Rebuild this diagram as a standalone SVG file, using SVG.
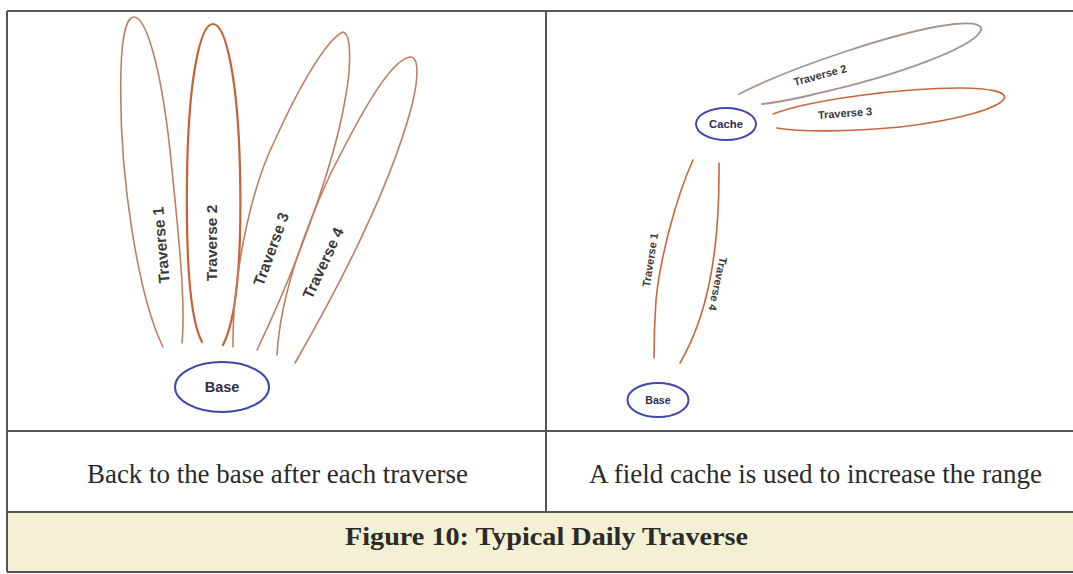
<svg xmlns="http://www.w3.org/2000/svg" width="1073" height="574" viewBox="0 0 1073 574">
<style>
.frame{stroke:#555;stroke-width:2;fill:none}
.loop{fill:none;stroke:#bf7f62;stroke-width:1.6;stroke-linecap:round}
.loop2{fill:none;stroke:#c9602f;stroke-width:2.2;stroke-linecap:round}
.loopg{fill:none;stroke:#a8958a;stroke-width:1.8;stroke-linecap:round}
.loopr{fill:none;stroke:#c8683a;stroke-width:1.6;stroke-linecap:round}
.node{fill:#fff;stroke:#3f47ad;stroke-width:2}
.nlabel{font-family:"Liberation Sans",Arial,sans-serif;font-weight:bold;fill:#2e2e48;text-anchor:middle;dominant-baseline:central}
.tl{font-family:"Liberation Sans",Arial,sans-serif;font-weight:bold;fill:#3a3a3a;text-anchor:middle;dominant-baseline:central}
.cap{font-family:"Liberation Serif",serif;fill:#2a2a2a;font-size:28px}
.fig{font-family:"Liberation Serif",serif;fill:#2a2a2a;font-size:25px;font-weight:bold}
</style>
<rect x="0" y="0" width="1073" height="574" fill="#fff"/>
<rect x="7" y="512" width="1066" height="60" fill="#f4f0d3"/>
<g id="frame">
<path class="frame" d="M7,11 H1073 M7,11 V572 M546,11 V512 M7,431 H1073 M7,512 H1073 M7,572 H1073"/>
</g>
<g id="connectors">
<path class="loop" d="M163,347 C140,300 118,180 121,70 C122,30 128,17 134,17 C145,17 160,60 170,150 C178,230 186,300 182,343"/>
<path class="loop2" d="M202,342 C190,320 186,260 187,180 C188,80 200,24 213,24 C226,24 238,80 240,170 C242,260 236,320 223,345"/>
<path class="loop" d="M233,347 C232,280 250,190 275,140 C295,95 325,40 343,32 C352,34 351,70 345,100 C335,160 300,260 257,350"/>
<path class="loop" d="M277,355 C280,300 300,240 330,175 C360,115 390,60 410,57 C420,57 418,80 412,105 C395,170 360,250 295,363"/>
<path class="loopg" d="M739,94 C790,68 900,30 955,24 C975,22 985,25 980,32 C970,48 900,75 815,94 C790,100 772,103 762,104"/>
<path class="loopr" d="M773,114 C810,100 900,88 960,88 C990,88 1008,92 1004,99 C998,108 960,120 900,127 C850,132 800,132 777,128"/>
<path class="loopr" d="M693,160 C675,200 660,260 656,300 C654,330 654,345 654,358"/>
<path class="loopr" d="M719,163 C720,260 705,320 680,363"/>
</g>
<g id="labels">
<text class="tl" font-size="15.5" transform="translate(161,245) rotate(-95)">Traverse 1</text>
<text class="tl" font-size="15.5" transform="translate(211,243) rotate(-90)">Traverse 2</text>
<text class="tl" font-size="15.5" transform="translate(271,249) rotate(-70)">Traverse 3</text>
<text class="tl" font-size="15.5" transform="translate(323,263) rotate(-65)">Traverse 4</text>
<text class="tl" font-size="11" transform="translate(820,75) rotate(-15)">Traverse 2</text>
<text class="tl" font-size="11" transform="translate(845,113) rotate(-4)">Traverse 3</text>
<text class="tl" font-size="11" transform="translate(650,260) rotate(-81)">Traverse 1</text>
<text class="tl" font-size="11" transform="translate(718,284) rotate(102)">Traverse 4</text>
</g>
<g id="base-left">
<ellipse class="node" cx="222" cy="387" rx="47" ry="25"/>
<text class="nlabel" x="222" y="387" font-size="14.5">Base</text>
</g>
<g id="cache">
<ellipse class="node" cx="726" cy="124" rx="30" ry="16"/>
<text class="nlabel" x="726" y="124" font-size="11.3">Cache</text>
</g>
<g id="base-right">
<ellipse class="node" cx="658" cy="400" rx="30.5" ry="17"/>
<text class="nlabel" x="658" y="400" font-size="10.6">Base</text>
</g>
<g id="captions">
<text class="cap" x="87" y="483" textLength="381" lengthAdjust="spacingAndGlyphs">Back to the base after each traverse</text>
<text class="cap" x="589" y="483" textLength="453" lengthAdjust="spacingAndGlyphs">A field cache is used to increase the range</text>
<text class="fig" x="345" y="545" textLength="403" lengthAdjust="spacingAndGlyphs">Figure 10: Typical Daily Traverse</text>
</g>
</svg>
